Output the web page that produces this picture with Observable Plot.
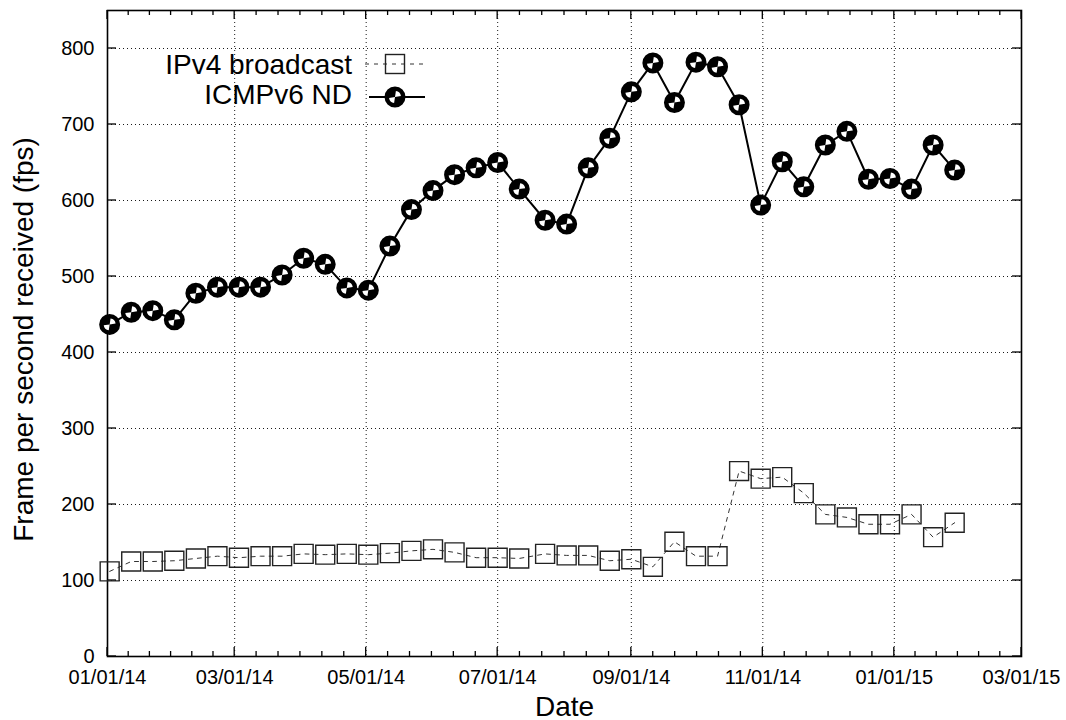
<!DOCTYPE html>
<html><head><meta charset="utf-8">
<script src="https://cdn.jsdelivr.net/npm/d3@7"></script>
<script src="https://cdn.jsdelivr.net/npm/@observablehq/plot@0.6"></script>
<style>body{margin:0;background:#fff;} #chart svg{display:block;}</style>
</head><body><div id="chart"></div>
<script>
// ---- data ----
const dates = [
  "2014-01-02","2014-01-12","2014-01-22","2014-02-01","2014-02-11","2014-02-21",
  "2014-03-03","2014-03-13","2014-03-23","2014-04-02","2014-04-12","2014-04-22",
  "2014-05-02","2014-05-12","2014-05-22","2014-06-01","2014-06-11","2014-06-21",
  "2014-07-01","2014-07-11","2014-07-23","2014-08-02","2014-08-12","2014-08-22",
  "2014-09-01","2014-09-11","2014-09-21","2014-10-01","2014-10-11","2014-10-21",
  "2014-10-31","2014-11-10","2014-11-20","2014-11-30","2014-12-10","2014-12-20",
  "2014-12-30","2015-01-09","2015-01-19","2015-01-29"
];
const ipv4 = [
  112,125,125,126,129,132,130,132,132,135,134,135,134,136,139,141,137,130,130,129,
  135,133,133,126,128,118,151,132,132,244,234,236,215,187,183,174,174,187,157,176
];
const icmp = [
  437,453,455,443,478,486,486,486,502,524,516,485,482,540,588,613,634,643,650,615,
  574,569,643,682,743,781,729,782,776,726,594,651,618,673,691,628,629,615,673,640
];
const seriesNames = ["IPv4 broadcast", "ICMPv6 ND"];
const xTickDates = ["2014-01-01","2014-03-01","2014-05-01","2014-07-01","2014-09-01","2014-11-01","2015-01-01","2015-03-01"];
const yTicks = [0,100,200,300,400,500,600,700,800];
const xLabel = "Date";
const yLabel = "Frame per second received (fps)";

// ---- build ----
const parse = d3.utcParse("%Y-%m-%d");
const rows = dates.map((d, i) => ({date: parse(d), ipv4: ipv4[i], icmp: icmp[i]}));
const majors = xTickDates.map(parse);
const minors = [];
for (let i = 0; i < majors.length - 1; i++) {
  for (let j = 1; j < 6; j++) minors.push(new Date(+majors[i] + (majors[i + 1] - majors[i]) * j / 6));
}

const wedges = {
  draw(ctx, size) {
    const r = Math.sqrt(size / Math.PI);
    ctx.moveTo(0, 0); ctx.arc(0, 0, r, -Math.PI / 2 + 0.15, -0.15); ctx.closePath();
    ctx.moveTo(0, 0); ctx.arc(0, 0, r, Math.PI / 2 + 0.15, Math.PI - 0.15); ctx.closePath();
  }
};

function frameTicks(index, scales, values, dims) {
  const g = d3.create("svg:g").attr("stroke", "#000").attr("stroke-width", 1.3);
  const top = dims.marginTop, bottom = dims.height - dims.marginBottom;
  const left = dims.marginLeft, right = dims.width - dims.marginRight;
  const line = (x1, y1, x2, y2) => g.append("line").attr("x1", x1).attr("y1", y1).attr("x2", x2).attr("y2", y2);
  for (const d of majors) { const x = scales.x(d); line(x, bottom, x, bottom - 9); line(x, top, x, top + 9); }
  for (const d of minors) { const x = scales.x(d); line(x, bottom, x, bottom - 5); line(x, top, x, top + 5); }
  for (const v of yTicks) { const y = scales.y(v); line(left, y, left + 9, y); line(right, y, right - 9, y); }
  return g.node();
}

function legend(index, scales, values, dims) {
  const g = d3.create("svg:g").attr("font-size", 28).attr("fill", "#000");
  const x0 = dims.marginLeft;
  const textX = x0 + 245, s1 = x0 + 258, s2 = x0 + 318, mid = x0 + 288;
  const r1 = dims.marginTop + 54, t2 = dims.marginTop + 84, r2 = dims.marginTop + 87;
  g.append("text").attr("x", textX).attr("y", r1).attr("dy", "0.35em").attr("text-anchor", "end").text(seriesNames[0]);
  g.append("text").attr("x", textX).attr("y", t2).attr("dy", "0.35em").attr("text-anchor", "end").text(seriesNames[1]);
  g.append("line").attr("x1", s1).attr("x2", s2).attr("y1", r1).attr("y2", r1)
    .attr("stroke", "#333").attr("stroke-width", 1).attr("stroke-dasharray", "4,5");
  g.append("rect").attr("x", mid - 9.5).attr("y", r1 - 9.5).attr("width", 19).attr("height", 19)
    .attr("fill", "none").attr("stroke", "#222").attr("stroke-width", 1.4);
  g.append("line").attr("x1", s1 + 4).attr("x2", s2).attr("y1", r2).attr("y2", r2)
    .attr("stroke", "#000").attr("stroke-width", 2);
  g.append("circle").attr("cx", mid).attr("cy", r2).attr("r", 9).attr("fill", "#000").attr("stroke", "#000").attr("stroke-width", 3);
  g.append("path").attr("transform", `translate(${mid},${r2})`).attr("fill", "#fff")
    .attr("d", d3.symbol(wedges, 36 * Math.PI)());
  return g.node();
}

const chart = Plot.plot({
  width: 1066, height: 720,
  marginLeft: 107, marginRight: 45, marginTop: 10, marginBottom: 64,
  style: {fontFamily: "'Liberation Sans', Arial, sans-serif", fontSize: "20px", color: "#000", background: "#fff", overflow: "visible"},
  x: {type: "utc", domain: [parse("2014-01-01"), parse("2015-03-01")]},
  y: {domain: [0, 850]},
  marks: [
    Plot.gridX(majors.slice(1, -1), {stroke: "#000", strokeOpacity: 0.9, strokeWidth: 1, strokeDasharray: "1,3"}),
    Plot.gridY(yTicks.slice(1), {stroke: "#000", strokeOpacity: 0.9, strokeWidth: 1, strokeDasharray: "1,3"}),
    Plot.axisX(majors, {tickSize: 0, tickPadding: 13, tickFormat: d3.utcFormat("%m/%d/%y"), label: null, fontSize: 20}),
    Plot.axisY(yTicks, {tickSize: 0, tickPadding: 13, label: null, fontSize: 20}),
    Plot.frame({stroke: "#000", strokeWidth: 1.6}),
    frameTicks,
    Plot.line(rows, {x: "date", y: "ipv4", stroke: "#333", strokeWidth: 1, strokeDasharray: "4,5"}),
    Plot.dot(rows, {x: "date", y: "ipv4", symbol: "square", r: 10.7, stroke: "#222", strokeWidth: 1.4, fill: "none"}),
    Plot.line(rows, {x: "date", y: "icmp", stroke: "#000", strokeWidth: 2}),
    Plot.dot(rows, {x: "date", y: "icmp", r: 9, fill: "#000", stroke: "#000", strokeWidth: 3}),
    Plot.dot(rows, {x: "date", y: "icmp", r: 6, symbol: wedges, fill: "#fff"}),
    legend,
    Plot.text([yLabel], {text: d => d, frameAnchor: "left", textAnchor: "middle", rotate: -90, dx: -75, dy: 6, lineAnchor: "bottom", fontSize: 28}),
    Plot.text([xLabel], {text: d => d, frameAnchor: "bottom", dy: 59, lineAnchor: "bottom", fontSize: 28})
  ]
});
document.getElementById("chart").append(chart);
</script>
</body></html>
